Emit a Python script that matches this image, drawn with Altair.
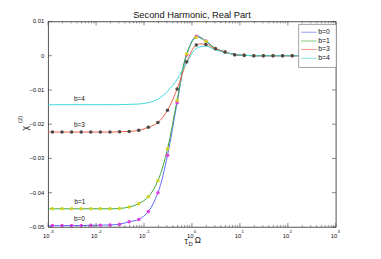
import altair as alt
import pandas as pd

# ---- data ----
log_x = [-3.0, -2.91, -2.71, -2.51, -2.31, -2.11, -1.91, -1.71, -1.51, -1.31, -1.11,
         -0.91, -0.71, -0.51, -0.31, -0.11, 0.09, 0.29, 0.49, 0.69, 0.89,
         1.09, 1.29, 1.49, 1.69, 1.89, 2.09, 2.5, 3.0]

b0 = [-0.0496, -0.0496, -0.0496, -0.0496, -0.0496, -0.0495, -0.0495, -0.0494, -0.0492, -0.0485, -0.0478,
      -0.0455, -0.0400, -0.0291, -0.0137, 0.0003, 0.0057, 0.0043, 0.0021, 0.0011, 0.0003,
      0.0001, 0.0, 0.0, 0.0, 0.0, 0.0, 0.0, 0.0]
b1 = [-0.0447, -0.0447, -0.0447, -0.0447, -0.0447, -0.0447, -0.0447, -0.0447, -0.0446, -0.0442, -0.0432,
      -0.0412, -0.0365, -0.0272, -0.0130, 0.0005, 0.0054, 0.0042, 0.0021, 0.0011, 0.0003,
      0.0001, 0.0, 0.0, 0.0, 0.0, 0.0, 0.0, 0.0]
b3 = [-0.0223, -0.0223, -0.0223, -0.0223, -0.0223, -0.0223, -0.0223, -0.0223, -0.0222, -0.0221, -0.0218,
      -0.0209, -0.0195, -0.0159, -0.0097, -0.0018, 0.0031, 0.0033, 0.0020, 0.0011, 0.0003,
      0.0001, 0.0, 0.0, 0.0, 0.0, 0.0, 0.0, 0.0]
b4 = [-0.0143, -0.0143, -0.0143, -0.0143, -0.0143, -0.0143, -0.0143, -0.0143, -0.0143, -0.0142, -0.0141,
      -0.0137, -0.0127, -0.0104, -0.0069, -0.0020, 0.0021, 0.0028, 0.0017, 0.0009, 0.0004,
      0.0001, 0.0, 0.0, 0.0, 0.0, 0.0, 0.0, 0.0]

series_names = ["b=0", "b=1", "b=3", "b=4"]
line_colors = ["#5a66f5", "#3aa83a", "#f0604a", "#3ad6d6"]
marker_series = ["b=0", "b=1", "b=3"]
marker_colors = ["#e040e0", "#d2d21e", "#4a4a4a"]

label_text = ["b=4", "b=3", "b=1", "b=0"]
label_x = [0.0045, 0.0045, 0.0046, 0.0045]
label_y = [-0.01266, -0.0203, -0.0427, -0.0476]

x_major = [0.001, 0.01, 0.1, 1, 10, 100, 1000]
x_exponents = ["-3", "-2", "-1", "0", "1", "2", "3"]
x_minor = [m * 10.0 ** e for e in range(-3, 3) for m in range(2, 10)]
y_major = [-0.05, -0.04, -0.03, -0.02, -0.01, 0.0, 0.01]
y_labels = ["−0.05", "−0.04", "−0.03", "−0.02", "−0.01", "0", "0.01"]

TITLE = "Second Harmonic, Real Part"

W, H = 294, 210
FONT = "Liberation Sans"
TXT = "#111"

# ---- tables ----
rows = []
for name, vals in zip(series_names, [b0, b1, b3, b4]):
    for i, (lx, v) in enumerate(zip(log_x, vals)):
        rows.append({"x": 10 ** lx, "y": v, "s": name, "i": i})
df = pd.DataFrame(rows)
dfm = df[(df["s"].isin(marker_series)) & (df["i"] >= 1) & (df["i"] <= 26)]

xscale = alt.Scale(type="log", domain=[0.001, 1000])
yscale = alt.Scale(domain=[-0.05, 0.01])

xaxis = alt.Axis(values=x_major, labels=False, ticks=False, domain=False, grid=False, title=None)
yaxis = alt.Axis(values=y_major, labels=False, ticks=False, domain=False, grid=False, title=None)

lines = alt.Chart(df).mark_line(strokeWidth=1, interpolate="catmull-rom").encode(
    x=alt.X("x:Q", scale=xscale, axis=xaxis),
    y=alt.Y("y:Q", scale=yscale, axis=yaxis),
    color=alt.Color("s:N", scale=alt.Scale(domain=series_names, range=line_colors), legend=None),
    order=alt.Order("i:Q"),
)

markers = alt.Chart(dfm).mark_point(filled=True, shape="circle", size=13, opacity=1).encode(
    x=alt.X("x:Q", scale=xscale),
    y=alt.Y("y:Q", scale=yscale),
    fill=alt.Fill("s:N", scale=alt.Scale(domain=marker_series, range=marker_colors), legend=None),
)

lab_df = pd.DataFrame({"x": label_x, "y": label_y, "t": label_text})
labels = alt.Chart(lab_df).mark_text(fontSize=6.5, font=FONT, color=TXT).encode(
    x=alt.X("x:Q", scale=xscale), y=alt.Y("y:Q", scale=yscale), text="t:N")

# x tick labels 10^n
xl_df = pd.DataFrame({"v": x_major, "e": x_exponents, "b": ["10"] * len(x_major)})
xl_base = alt.Chart(xl_df).mark_text(fontSize=6, font=FONT, color=TXT, align="right",
                                     baseline="middle", dx=1.5).encode(
    x=alt.X("v:Q", scale=xscale), y=alt.value(H + 9), text="b:N")
xl_exp = alt.Chart(xl_df).mark_text(fontSize=4.5, font=FONT, color=TXT, align="left",
                                    baseline="middle", dx=1.7).encode(
    x=alt.X("v:Q", scale=xscale), y=alt.value(H + 5.5), text="e:N")

# y tick labels
yl_df = pd.DataFrame({"v": y_major, "t": y_labels})
yl = alt.Chart(yl_df).mark_text(fontSize=6, font=FONT, color=TXT, align="right",
                                baseline="middle").encode(
    y=alt.Y("v:Q", scale=yscale), x=alt.value(-4), text="t:N")

xmaj = pd.DataFrame({"v": x_major})
xmin = pd.DataFrame({"v": x_minor})
ymaj = pd.DataFrame({"v": y_major})
tick_col = "#333"
ticks = [
    alt.Chart(xmaj).mark_rule(color=tick_col, strokeWidth=0.6).encode(
        x=alt.X("v:Q", scale=xscale), y=alt.value(H), y2=alt.value(H - 4)),
    alt.Chart(xmaj).mark_rule(color=tick_col, strokeWidth=0.6).encode(
        x=alt.X("v:Q", scale=xscale), y=alt.value(0), y2=alt.value(4)),
    alt.Chart(xmin).mark_rule(color=tick_col, strokeWidth=0.5).encode(
        x=alt.X("v:Q", scale=xscale), y=alt.value(H), y2=alt.value(H - 2)),
    alt.Chart(xmin).mark_rule(color=tick_col, strokeWidth=0.5).encode(
        x=alt.X("v:Q", scale=xscale), y=alt.value(0), y2=alt.value(2)),
    alt.Chart(ymaj).mark_rule(color=tick_col, strokeWidth=0.6).encode(
        y=alt.Y("v:Q", scale=yscale), x=alt.value(0), x2=alt.value(4)),
    alt.Chart(ymaj).mark_rule(color=tick_col, strokeWidth=0.6).encode(
        y=alt.Y("v:Q", scale=yscale), x=alt.value(W), x2=alt.value(W - 4)),
]

# manual legend (top-right, inside plot)
one = pd.DataFrame({"a": [0]})
legend_layers = [alt.Chart(one).mark_rect(fill="white", stroke="#8a8a8a", strokeWidth=0.8).encode(
    x=alt.value(256), x2=alt.value(294.5), y=alt.value(3), y2=alt.value(47))]
leg_y = [11, 20, 28.7, 37.7]
for name, col, yy in zip(series_names, line_colors, leg_y):
    legend_layers.append(alt.Chart(one).mark_rule(strokeWidth=1, opacity=0.65, color=col).encode(
        x=alt.value(258.5), x2=alt.value(274.5), y=alt.value(yy)))
    legend_layers.append(alt.Chart(one).mark_text(text=name, fontSize=7, font=FONT, color=TXT,
                                                  align="left", baseline="middle").encode(
        x=alt.value(276), y=alt.value(yy)))

# title and axis titles as text
title = alt.Chart(one).mark_text(text=TITLE, fontSize=9.5, font=FONT, color=TXT,
                                 align="center", baseline="alphabetic").encode(
    x=alt.value(W / 2), y=alt.value(-4))
xt1 = alt.Chart(one).mark_text(text="τ", fontSize=8.5, font=FONT, color=TXT).encode(
    x=alt.value(141), y=alt.value(224))
xt2 = alt.Chart(one).mark_text(text="D", fontSize=6, font=FONT, color=TXT).encode(
    x=alt.value(145.5), y=alt.value(227))
xt3 = alt.Chart(one).mark_text(text="Ω", fontSize=8.5, font=FONT, color=TXT).encode(
    x=alt.value(153), y=alt.value(223.5))
yt1 = alt.Chart(one).mark_text(text="χ", fontSize=9, font=FONT, color=TXT, angle=270).encode(
    x=alt.value(-24), y=alt.value(109))
yt2 = alt.Chart(one).mark_text(text="(2)", fontSize=6, font=FONT, color=TXT, angle=270).encode(
    x=alt.value(-28.5), y=alt.value(100))

chart = alt.layer(
    lines, markers, labels, xl_base, xl_exp, yl, *ticks, *legend_layers,
    title, xt1, xt2, xt3, yt1, yt2
).resolve_scale(
    color="independent", fill="independent"
).properties(
    width=W, height=H,
    padding={"left": 41, "top": 11, "right": 38, "bottom": 30},
    autosize=alt.AutoSizeParams(type="none"),
).configure_view(stroke="#222", strokeWidth=0.8)

chart.save("out.html", embed_options={"renderer": "svg", "actions": False})
